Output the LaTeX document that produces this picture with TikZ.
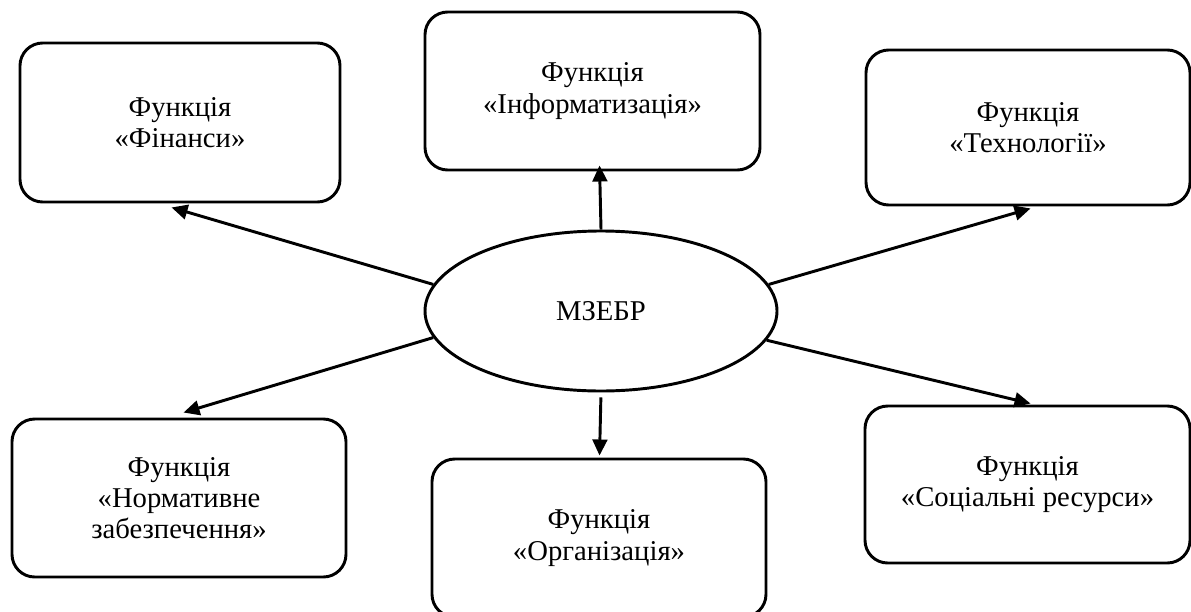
\documentclass[tikz,border=0pt]{standalone}
\usepackage{fontspec}
\setmainfont{Liberation Serif}
\usetikzlibrary{arrows.meta,shapes.geometric}
\begin{document}
\begin{tikzpicture}[x=0.75pt,y=-0.75pt,
  fbox/.style={draw,line width=2.2pt,rounded corners=17pt,align=center,inner sep=0pt,
    font=\fontsize{21.5}{23.5}\selectfont},
  ellbox/.style={draw,ellipse,line width=2.2pt,inner sep=0pt,
    font=\fontsize{21.5}{23.5}\selectfont},
  arr/.style={line width=2.2pt,-{Triangle[length=12pt,width=11pt]}}]
\useasboundingbox (0,0) rectangle (1191,611);
\clip (0,0) rectangle (1191,611);
\node[fbox,minimum width=240pt,minimum height=119.25pt] (fin) at (180,122.5) {Функція\\«Фінанси»};
\node[fbox,minimum width=251.25pt,minimum height=118.5pt] (inf) at (592.5,91) {Функція\\«Інформатизація»};
\node[fbox,minimum width=243pt,minimum height=116.25pt] (tech) at (1028,127.5) {Функція\\«Технології»};
\node[fbox,minimum width=250.5pt,minimum height=118.5pt] (norm) at (179,498) {Функція\\«Нормативне\\забезпечення»};
\node[fbox,minimum width=250.5pt,minimum height=118.5pt] (org) at (599,538) {Функція\\«Організація»};
\node[fbox,minimum width=243.75pt,minimum height=117.75pt] (soc) at (1027.5,484.5) {Функція\\«Соціальні ресурси»};
\node[ellbox,minimum width=264pt,minimum height=120pt] (ell) at (601,311) {МЗЕБР};
\draw[arr] (ell.171) -- ([shift={(153,4)}]fin.south west);
\draw[arr] (ell.9) -- ([shift={(166,2)}]tech.south west);
\draw[arr] (ell.189) -- ([shift={(173,-5)}]norm.north west);
\draw[arr] (ell.350) -- ([shift={(167,-1)}]soc.north west);
\draw[arr] (ell.north) -- ([shift={(176,-6)}]inf.south west);
\draw[arr,shorten <=3.75pt] (ell.south) -- ([shift={(169,-2)}]org.north west);
\end{tikzpicture}
\end{document}
